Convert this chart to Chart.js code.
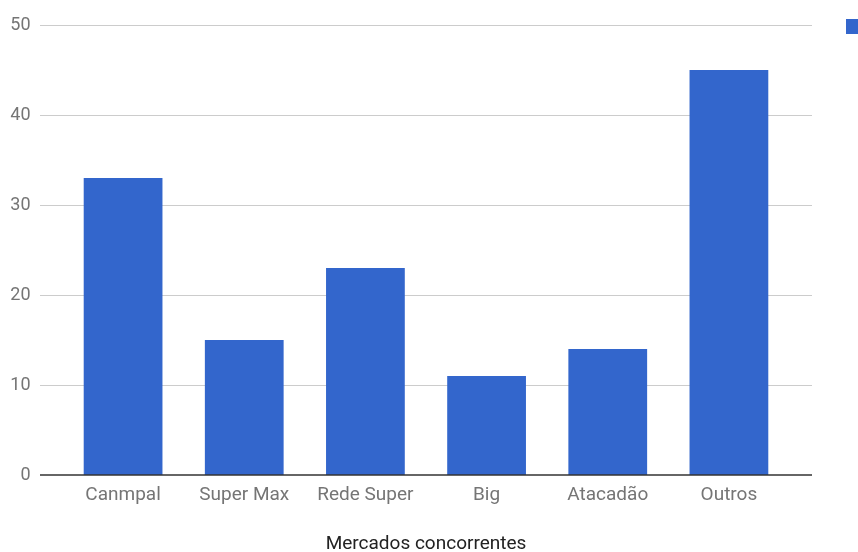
<!DOCTYPE html>
<html>
<head>
<meta charset="utf-8">
<script src="https://cdn.jsdelivr.net/npm/chart.js@4"></script>
<style>
  html, body { margin: 0; padding: 0; background: #fff; overflow: hidden; }
  #wrap { width: 858px; height: 556px; }
</style>
</head>
<body>
<div id="wrap"><canvas id="bar-chart"></canvas></div>
<script>
const categories = ["Canmpal", "Super Max", "Rede Super", "Big", "Atacadão", "Outros"];
const values = [33, 15, 23, 11, 14, 45];
const yTicks = [0, 10, 20, 30, 40, 50];
const xTitle = "Mercados concorrentes";

const barColor = "#3366cc";
const gridExtend = 22.5;

// google-sheets style gridlines that run a bit past the bars on both sides
const gridPlugin = {
  id: "sheetGrid",
  beforeDatasetsDraw(chart) {
    const ctx = chart.ctx;
    const area = chart.chartArea;
    const y = chart.scales.y;
    ctx.save();
    ctx.strokeStyle = "#cccccc";
    ctx.lineWidth = 1;
    yTicks.forEach((t) => {
      if (t === 0) return;
      const py = Math.round(y.getPixelForValue(t)) + 0.5;
      ctx.beginPath();
      ctx.moveTo(area.left - gridExtend, py);
      ctx.lineTo(area.right + gridExtend, py);
      ctx.stroke();
    });
    ctx.restore();
  },
  afterDatasetsDraw(chart) {
    const ctx = chart.ctx;
    const area = chart.chartArea;
    const py = chart.scales.y.getPixelForValue(0);
    ctx.save();
    ctx.strokeStyle = "#333333";
    ctx.lineWidth = 1.5;
    ctx.beginPath();
    ctx.moveTo(area.left - gridExtend, py);
    ctx.lineTo(area.right + gridExtend, py);
    ctx.stroke();
    // legend swatch, its label falls outside the picture
    ctx.fillStyle = barColor;
    ctx.fillRect(846, 19, 14, 15);
    ctx.restore();
  },
};

const barChart = new Chart(document.getElementById("bar-chart"), {
  type: "bar",
  data: {
    labels: categories,
    datasets: [
      {
        data: values,
        backgroundColor: barColor,
        barPercentage: 0.65,
        categoryPercentage: 1,
      },
    ],
  },
  options: {
    responsive: true,
    maintainAspectRatio: false,
    animation: false,
    layout: { padding: { top: 25, right: 68.5, left: 10.5, bottom: 0 } },
    plugins: {
      legend: { display: false },
      tooltip: { enabled: false },
    },
    scales: {
      x: {
        afterFit(axis) {
          axis.height = 81;
          axis.paddingLeft = 0;
          axis.paddingRight = 0;
        },
        grid: { display: false, drawTicks: false },
        border: { display: false },
        ticks: { color: "#757575", font: { family: "Roboto", size: 19 }, padding: 9 },
        title: {
          display: true,
          text: xTitle,
          color: "#222222",
          font: { family: "Roboto", size: 19 },
          padding: { top: 14, bottom: 0 },
        },
      },
      y: {
        min: 0,
        max: 50,
        afterBuildTicks(axis) {
          axis.ticks = yTicks.map((v) => ({ value: v }));
        },
        afterFit(axis) {
          axis.width = 52;
          axis.paddingTop = 0;
          axis.paddingBottom = 0;
        },
        grid: { display: false, drawTicks: false },
        border: { display: false },
        ticks: { color: "#757575", font: { family: "Roboto", size: 18 }, padding: 32 },
      },
    },
  },
  plugins: [gridPlugin],
});
</script>
</body>
</html>
